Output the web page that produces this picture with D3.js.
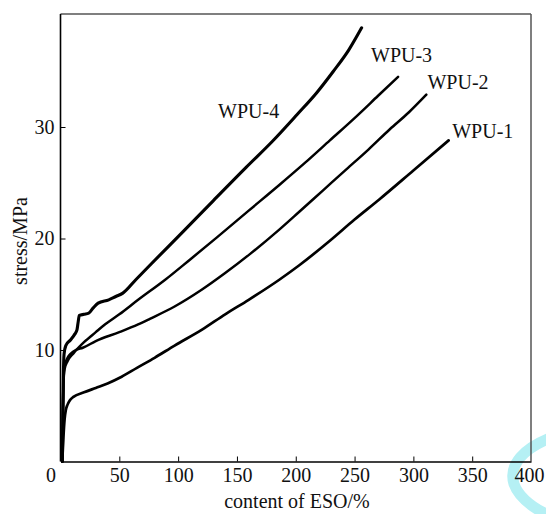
<!DOCTYPE html>
<html>
<head>
<meta charset="utf-8">
<script src="https://cdn.jsdelivr.net/npm/d3@7"></script>
<style>
  html, body { margin: 0; padding: 0; background: #fff; }
  svg { display: block; }
  svg text { font-family: 'Liberation Serif', 'Times New Roman', 'DejaVu Serif', serif !important; fill: #111; }
</style>
</head>
<body>
<div id="chart"></div>
<script>
// ---- data ----
const xTicks = [0, 50, 100, 150, 200, 250, 300, 350, 400];
const yTicks = [10, 20, 30];
const seriesNames = ["WPU-1", "WPU-2", "WPU-3", "WPU-4"];

const wpu1 = [[1.5,0],[2.5,2.2],[3.5,3.8],[4.5,4.6],[6,5.1],[8,5.5],[11,5.8],[20,6.2],[30,6.6],[40,7.0],[52,7.6],[65,8.4],[80,9.3],[97,10.4],[120,11.8],[140,13.2],[160,14.5],[186,16.3],[203,17.6],[229,19.8],[250,21.7],[271,23.5],[300,26.1],[330,28.8]];
const wpu2 = [[1.5,0],[2,4],[2.5,7],[3.5,8.6],[6,9.3],[9,9.7],[13,10.0],[19,10.2],[30,10.8],[50,11.6],[66,12.3],[76,12.8],[97,13.9],[120,15.4],[140,16.9],[161,18.6],[186,20.8],[203,22.4],[223,24.3],[243,26.2],[262,28.0],[280,29.8],[296,31.3],[311,32.9]];
const wpu3 = [[1.5,0],[2,4],[2.5,7],[3.5,8.3],[6,9.0],[11,9.7],[20,10.7],[30,11.6],[38,12.3],[50,13.2],[66,14.5],[89,16.3],[110,18.1],[133,20.1],[160,22.5],[186,24.8],[208,26.8],[229,28.8],[250,30.8],[270,32.8],[287,34.5]];
const wpu4 = [[1.5,0],[2,4],[2.5,8],[3,9.6],[4.5,10.4],[8.5,10.9],[12,11.4],[14,11.8],[15,12.5],[16,13.1],[20,13.2],[24,13.3],[28,13.8],[32,14.2],[41,14.5],[47,14.8],[53,15.1],[64,16.3],[76,17.6],[104,20.6],[130,23.4],[158,26.4],[180,28.7],[201,31.1],[218,33.1],[232,35.0],[245,36.9],[256,38.9]];
const seriesData = [wpu1, wpu2, wpu3, wpu4];

// label anchor data positions (x in %, y in MPa)
const labelX = [333, 312, 264, 134];
const labelY = [29.0, 33.4, 35.8, 30.8];

// ---- drawing ----
const W = 546, H = 514;
const FONT = "'Liberation Serif', 'Times New Roman', 'DejaVu Serif', serif";
const FS = 20;
const svg = d3.select("#chart").append("svg").attr("width", W).attr("height", H)
  .style("font-family", FONT);

const x = d3.scaleLinear().domain([0, 400]).range([60.5, 531]);
const y = d3.scaleLinear().domain([0, 40]).range([461.5, 15.5]);

// watermark-like decoration
svg.append("path")
  .attr("d", "M550,438 C525,448 508,464 514,484 C519,498 533,508 550,516")
  .attr("fill", "none").attr("stroke", "#b5f0f4").attr("stroke-width", 11);

// frame (top and right, gray)
svg.append("line").attr("x1", x(0)).attr("x2", x(400)).attr("y1", 14).attr("y2", 14)
  .attr("stroke", "#555").attr("stroke-width", 1.5);
svg.append("line").attr("x1", x(400)).attr("x2", x(400)).attr("y1", 14).attr("y2", y(0))
  .attr("stroke", "#555").attr("stroke-width", 1.5);

// x axis
const gx = svg.append("g").attr("transform", `translate(0,${y(0)})`)
  .call(d3.axisBottom(x).tickValues(xTicks).tickSizeInner(-5).tickSizeOuter(0).tickPadding(6));
gx.attr("font-family", null);
gx.select(".domain").attr("stroke", "#000").attr("stroke-width", 1.6);
gx.selectAll(".tick line").attr("stroke", "#000").attr("stroke-width", 1);
gx.selectAll(".tick text").attr("font-size", FS).attr("fill", "#111")
  .attr("font-family", FONT);
gx.selectAll(".tick").filter(d => d === 0).select("text").attr("x", -10);
gx.selectAll(".tick").filter(d => d === 0 || d === 400).select("line").remove();
gx.selectAll(".tick").filter(d => d === 400).select("text").attr("x", -2);

// y axis
const gy = svg.append("g").attr("transform", `translate(${x(0)},0)`)
  .call(d3.axisLeft(y).tickValues(yTicks).tickSizeInner(-5).tickSizeOuter(0).tickPadding(6));
gy.attr("font-family", null);
gy.select(".domain").attr("stroke", "#000").attr("stroke-width", 1.6)
  .attr("d", `M0,14V${y(0)}`);
gy.selectAll(".tick line").attr("stroke", "#000").attr("stroke-width", 1);
gy.selectAll(".tick text").attr("font-size", FS).attr("fill", "#111")
  .attr("font-family", FONT);

// axis titles
svg.append("text").attr("x", 297).attr("y", 508).attr("text-anchor", "middle")
  .attr("font-family", FONT).attr("font-size", FS).text("content of ESO/%");
svg.append("text").attr("transform", `translate(27,241) rotate(-90)`)
  .attr("font-family", FONT).attr("text-anchor", "middle").attr("font-size", FS).text("stress/MPa");

// curves
const line = d3.line().x(d => x(d[0])).y(d => y(d[1])).curve(d3.curveMonotoneX);
const widths = [2.7, 2.5, 2.5, 3.1];
seriesData.forEach((s, i) => {
  svg.append("path").datum(s).attr("d", line)
    .attr("fill", "none").attr("stroke", "#000").attr("stroke-width", widths[i])
    .attr("stroke-linejoin", "round").attr("stroke-linecap", "round");
});

// series labels
seriesNames.forEach((n, i) => {
  svg.append("text").attr("x", x(labelX[i])).attr("y", y(labelY[i]))
    .attr("font-family", FONT).attr("font-size", FS).text(n);
});
</script>
</body>
</html>
